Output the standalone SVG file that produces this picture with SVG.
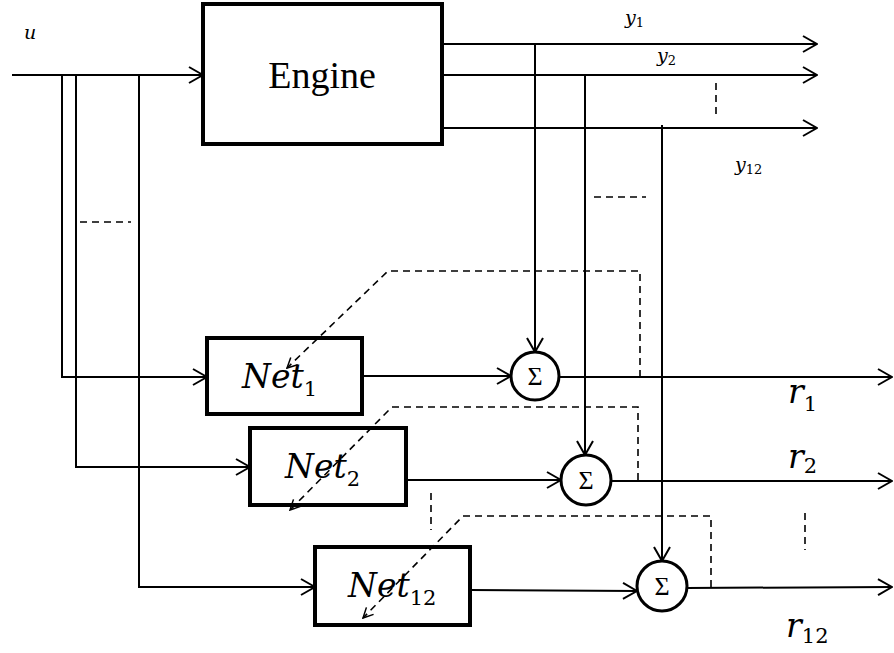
<svg xmlns="http://www.w3.org/2000/svg" width="894" height="653" viewBox="0 0 894 653">
<defs>
<marker id="arr" markerUnits="userSpaceOnUse" markerWidth="16" markerHeight="18" refX="15" refY="9" orient="auto">
<path d="M1,1 L15,9 L1,17" fill="none" stroke="#000" stroke-width="2"/>
</marker>
<marker id="darr" markerUnits="userSpaceOnUse" markerWidth="12" markerHeight="12" refX="11" refY="6" orient="auto">
<path d="M1,1 L11,6 L1,11" fill="none" stroke="#000" stroke-width="1.5"/>
</marker>
<style>
.ln{fill:none;stroke:#000;stroke-width:2}
.ar{marker-end:url(#arr)}
.ds{fill:none;stroke:#000;stroke-width:1.6;stroke-dasharray:7,5}
.da{marker-end:url(#darr)}
.box{fill:none;stroke:#000;stroke-width:4}
.sum{fill:#fff;stroke:#000;stroke-width:3}
.mi{font-family:"DejaVu Serif",serif;font-style:italic}
.sub{font-family:"DejaVu Serif",serif;font-style:normal}
.tx{font-family:"Liberation Serif","Times New Roman",serif}
</style>
</defs>
<rect width="894" height="653" fill="#fff"/>
<g id="connectors">
<line class="ln ar" x1="12" y1="75" x2="203" y2="75"/>
<polyline class="ln ar" points="62,75 62,377 207,377"/>
<polyline class="ln ar" points="76,75 76,467 250,467"/>
<polyline class="ln ar" points="139,75 139,587 315,587"/>
<line class="ds" x1="80" y1="222" x2="131" y2="222"/>
<line class="ln ar" x1="442" y1="44" x2="817" y2="44"/>
<line class="ln ar" x1="442" y1="75" x2="817" y2="75"/>
<line class="ln ar" x1="442" y1="128" x2="817" y2="128"/>
<line class="ds" x1="716" y1="83" x2="716" y2="119"/>
<line class="ln ar" x1="535" y1="44" x2="535" y2="352"/>
<line class="ln ar" x1="585" y1="75" x2="585" y2="455"/>
<line class="ln ar" x1="662" y1="125" x2="662" y2="561"/>
<line class="ds" x1="594" y1="197" x2="646" y2="197"/>
<line class="ln ar" x1="362" y1="376" x2="511" y2="376"/>
<line class="ln ar" x1="406" y1="480" x2="561" y2="480"/>
<line class="ln ar" x1="470" y1="590" x2="637" y2="591"/>
<line class="ln ar" x1="560" y1="377" x2="892" y2="377"/>
<line class="ln ar" x1="611" y1="481" x2="892" y2="481"/>
<line class="ln ar" x1="687" y1="588" x2="892" y2="587"/>
<polyline class="ds da" points="640,377 640,271 388,271 287,368"/>
<polyline class="ds da" points="638,480 638,407 392,407 290,510"/>
<polyline class="ds da" points="711,587 711,516 463,516 363,618"/>
<line class="ds" x1="431" y1="493" x2="431" y2="530"/>
<line class="ds" x1="805" y1="513" x2="805" y2="550"/>
</g>
<g id="engine">
<rect class="box" x="203" y="4" width="239" height="140"/>
<text class="tx" x="322" y="88" font-size="38" text-anchor="middle">Engine</text>
</g>
<g id="net1">
<rect class="box" x="207" y="338" width="155" height="76"/>
<text class="mi" x="242" y="388" font-size="33">Net<tspan class="sub" font-size="21" dy="8">1</tspan></text>
</g>
<g id="net2">
<rect class="box" x="250" y="428" width="156" height="77"/>
<text class="mi" x="285" y="478" font-size="33">Net<tspan class="sub" font-size="21" dy="8">2</tspan></text>
</g>
<g id="net12">
<rect class="box" x="315" y="547" width="155" height="78"/>
<text class="mi" x="348" y="597" font-size="33">Net<tspan class="sub" font-size="21" dy="8">12</tspan></text>
</g>
<g id="sum1">
<circle class="sum" cx="535" cy="376" r="24"/>
<text class="tx" x="535" y="385" font-size="26" text-anchor="middle">Σ</text>
</g>
<g id="sum2">
<circle class="sum" cx="586" cy="480" r="25"/>
<text class="tx" x="586" y="489" font-size="26" text-anchor="middle">Σ</text>
</g>
<g id="sum12">
<circle class="sum" cx="662" cy="586" r="25"/>
<text class="tx" x="662" y="595" font-size="26" text-anchor="middle">Σ</text>
</g>
<g id="labels">
<text class="mi" x="24" y="39" font-size="19">u</text>
<text class="mi" x="625" y="24" font-size="19">y<tspan class="sub" font-size="13" dy="3">1</tspan></text>
<text class="mi" x="657" y="62" font-size="19">y<tspan class="sub" font-size="13" dy="3">2</tspan></text>
<text class="mi" x="735" y="171" font-size="19">y<tspan class="sub" font-size="13" dy="3">12</tspan></text>
<text class="mi" x="788" y="403" font-size="33">r<tspan class="sub" font-size="21" dy="8">1</tspan></text>
<text class="mi" x="788" y="468" font-size="33">r<tspan class="sub" font-size="21" dy="5">2</tspan></text>
<text class="mi" x="786" y="637" font-size="33">r<tspan class="sub" font-size="21" dy="6">12</tspan></text>
</g>
</svg>
